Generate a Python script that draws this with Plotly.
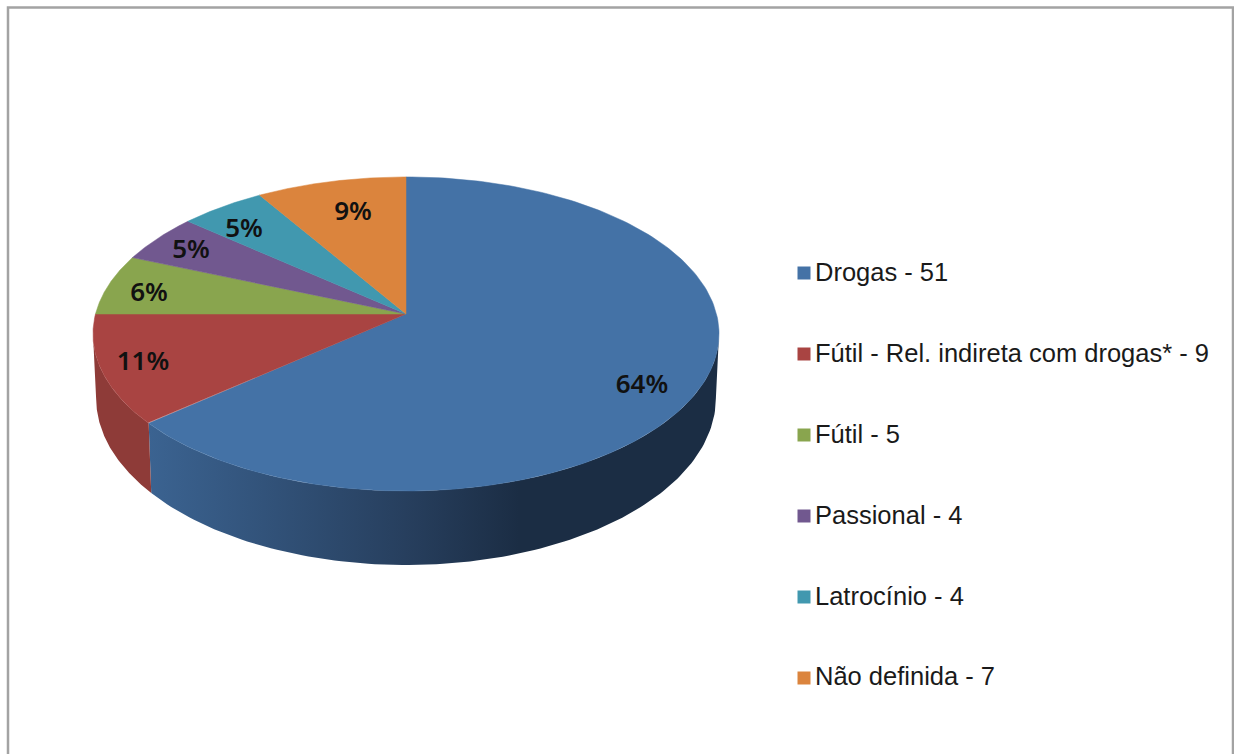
import numpy as np
import plotly.graph_objects as go

# --- data ---
CATEGORIES = ["Drogas", "Fútil - Rel. indireta com drogas*", "Fútil", "Passional", "Latrocínio", "Não definida"]
VALUES = [51, 9, 5, 4, 4, 7]

# --- styles ---
COLORS = ["#4472A6", "#A94442", "#89A54E", "#71588F", "#4198AF", "#DB843D"]
SIDE_RED = "#8E3B38"
SIDE_BLUE_SCALE = [[0, "#3B6391"], [0.45, "#273F5E"], [0.65, "#1B2D44"], [1, "#1B2D44"]]
FRAME = "#A3A3A3"
LABEL_FONT = dict(family="Noto Sans", size=26, color="#111111", weight=600)
LEGEND_FONT = dict(family="Liberation Sans", size=25.5, color="#1a1a1a")

# --- layout (pixels in the axis space) ---
CX, CY, R = 406.0, 314.0, 310.5
KT, AT = 0.127, 154.5
SCALE_B, DY_B, AB = 0.99, 62.8, 164.3
LABEL_X = [642, 143, 149, 191, 244, 353]
LABEL_Y = [386, 363, 294, 251, 230, 213]
LEGEND_SWATCH_X = 804
LEGEND_TEXT_X = 815
LEGEND_Y = [275, 356, 437, 518, 599, 679]
SWATCH_Y = [273, 354, 435, 516, 597, 678]


def top_rim(theta):
    c, s = np.sin(theta), -np.cos(theta)
    d = 1 - KT * s
    return CX + R * c / d, CY + AT * s / d


def bottom_rim(theta):
    c, s = np.sin(theta), -np.cos(theta)
    d = 1 - KT * s
    return CX + SCALE_B * R * c / d, CY + DY_B + AB * s / d


def band(t0, t1):
    th = np.linspace(t0, t1, 120)
    x0, y0 = top_rim(th)
    x1, y1 = bottom_rim(th[::-1])
    return np.r_[x0, x1, x0[0]], np.r_[y0, y1, y0[0]]


total = sum(VALUES)
edges = np.r_[0, np.cumsum(VALUES)] / total * 2 * np.pi
sil = np.arcsin(KT)  # where the rim reaches its widest point

fig = go.Figure()

# side walls
bx, by = band(np.pi / 2 + sil, edges[1])
fig.add_trace(go.Scatter(x=bx, y=by, mode="lines", fill="toself", line=dict(width=0),
                         fillgradient=dict(type="horizontal", colorscale=SIDE_BLUE_SCALE),
                         hoverinfo="skip", showlegend=False))
rx, ry = band(edges[1], 1.5 * np.pi - sil)
fig.add_trace(go.Scatter(x=rx, y=ry, mode="lines", fill="toself", line=dict(width=0),
                         fillcolor=SIDE_RED, hoverinfo="skip", showlegend=False))

# top faces
for i, name in enumerate(CATEGORIES):
    th = np.linspace(edges[i], edges[i + 1], 200)
    x, y = top_rim(th)
    fig.add_trace(go.Scatter(x=np.r_[CX, x, CX], y=np.r_[CY, y, CY], mode="lines", fill="toself",
                             fillcolor=COLORS[i], line=dict(color=COLORS[i], width=0.5),
                             name=name, showlegend=False, hoverinfo="name"))

# percent labels
fig.add_trace(go.Scatter(x=LABEL_X, y=LABEL_Y, mode="text",
                         text=[f"{round(v / total * 100)}%" for v in VALUES],
                         textposition="middle center", textfont=LABEL_FONT,
                         hoverinfo="skip", showlegend=False))

# legend entries
for i, name in enumerate(CATEGORIES):
    fig.add_trace(go.Scatter(x=[LEGEND_SWATCH_X], y=[SWATCH_Y[i]], mode="markers",
                             marker=dict(symbol="square", size=13, color=COLORS[i]),
                             hoverinfo="skip", showlegend=False))
fig.add_trace(go.Scatter(x=[LEGEND_TEXT_X] * len(CATEGORIES), y=LEGEND_Y, mode="text",
                         text=[f"{c} - {v}" for c, v in zip(CATEGORIES, VALUES)],
                         textposition="middle right", textfont=LEGEND_FONT,
                         hoverinfo="skip", showlegend=False))

fig.update_layout(
    width=1234, height=754, margin=dict(l=0, r=0, t=0, b=0),
    paper_bgcolor="white", plot_bgcolor="white",
    xaxis=dict(range=[0, 1234], visible=False, fixedrange=True),
    yaxis=dict(range=[754, 0], visible=False, fixedrange=True),
    shapes=[dict(type="rect", xref="x", yref="y", x0=8, x1=1233, y0=7.5, y1=790,
                 line=dict(color=FRAME, width=2.5), fillcolor="rgba(0,0,0,0)", layer="below")],
)

fig.write_html("out.html", config=dict(displayModeBar=False),
               post_script="document.body.style.margin='0';document.body.style.overflow='hidden';")
